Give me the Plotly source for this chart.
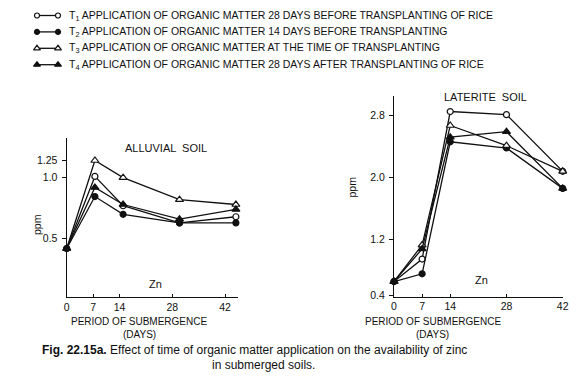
import plotly.graph_objects as go

# ---------------- data ----------------
days = [0, 7, 14, 28, 42]
day_labels = ["0", "7", "14", "28", "42"]

series_names = ["T1", "T2", "T3", "T4"]
legend_texts = [
    "T<sub>1</sub> APPLICATION OF ORGANIC MATTER 28 DAYS BEFORE TRANSPLANTING OF RICE",
    "T<sub>2</sub> APPLICATION OF ORGANIC MATTER 14 DAYS BEFORE TRANSPLANTING",
    "T<sub>3</sub> APPLICATION OF ORGANIC MATTER AT THE TIME OF TRANSPLANTING",
    "T<sub>4</sub> APPLICATION OF ORGANIC MATTER 28 DAYS AFTER TRANSPLANTING OF RICE",
]

alluvial_T1 = [0.42, 1.01, 0.77, 0.63, 0.68]
alluvial_T2 = [0.42, 0.845, 0.70, 0.63, 0.63]
alluvial_T3 = [0.42, 1.14, 1.00, 0.82, 0.78]
alluvial_T4 = [0.42, 0.92, 0.78, 0.66, 0.74]

laterite_T1 = [0.66, 0.95, 2.85, 2.81, 2.08]
laterite_T2 = [0.66, 0.76, 2.46, 2.38, 1.86]
laterite_T3 = [0.66, 1.13, 2.67, 2.41, 2.08]
laterite_T4 = [0.66, 1.08, 2.52, 2.59, 1.86]

alluvial = [alluvial_T1, alluvial_T2, alluvial_T3, alluvial_T4]
laterite = [laterite_T1, laterite_T2, laterite_T3, laterite_T4]

alluvial_ytick_vals = [0.5, 1.0, 1.139]
alluvial_ytick_text = ["0.5", "1.0", "1.25"]
laterite_ytick_vals = [0.48, 1.2, 2.0, 2.8]
laterite_ytick_text = ["0.4", "1.2", "2.0", "2.8"]

# ---------------- style ----------------
W, H = 586, 378
FONT = "Liberation Sans, Arial, sans-serif"
BLACK = "#111111"
symbols = ["circle", "circle", "triangle-up", "triangle-up"]
fills = ["white", BLACK, "white", BLACK]
sizes = [6, 6, 7, 7]

def px_x(p):
    return p / W

def px_y(p):
    return 1 - p / H

fig = go.Figure()

def add_series(values, xa, ya):
    for i, vals in enumerate(values):
        fig.add_trace(go.Scatter(
            x=days, y=vals, xaxis=xa, yaxis=ya, mode="lines+markers",
            name=series_names[i], showlegend=False, cliponaxis=False,
            line=dict(color=BLACK, width=1.3),
            marker=dict(symbol=symbols[i], size=sizes[i], color=fills[i],
                        line=dict(color=BLACK, width=1.2)),
            hoverinfo="x+y+name"))

add_series(alluvial, "x", "y")
add_series(laterite, "x2", "y2")

# legend glyphs on a hidden pixel-coordinate overlay axis
for i in range(4):
    ry = 15.5 + i * 16.4
    fig.add_trace(go.Scatter(
        x=[37, 58], y=[ry, ry], xaxis="x3", yaxis="y3", mode="lines+markers",
        showlegend=False, hoverinfo="skip", cliponaxis=False,
        line=dict(color=BLACK, width=1.3),
        marker=dict(symbol=symbols[i], size=sizes[i] - 1, color=fills[i],
                    line=dict(color=BLACK, width=1.2))))

axis_common = dict(showgrid=False, zeroline=False, showline=True, linecolor=BLACK,
                   linewidth=1.3, tickcolor=BLACK, tickwidth=1.3, automargin=False,
                   tickfont=dict(family=FONT, size=10.5, color=BLACK))
xaxis_common = dict(ticks="inside", ticklen=3, **axis_common)
yaxis_common = dict(ticks="outside", ticklen=4, ticklabelstandoff=2, **axis_common)

left_scale = 0.936
fig.update_layout(
    width=W, height=H, margin=dict(l=0, r=0, t=0, b=0, autoexpand=False),
    paper_bgcolor="white", plot_bgcolor="rgba(0,0,0,0)",
    showlegend=False,
    xaxis=dict(domain=[px_x(66.7), px_x(237.5)], range=[0, 42.4], anchor="y",
               tickvals=[d * left_scale for d in days], ticktext=day_labels, **xaxis_common),
    yaxis=dict(domain=[px_y(297.3), px_y(138)], range=[0.021, 1.324], anchor="x",
               tickvals=alluvial_ytick_vals, ticktext=alluvial_ytick_text, **yaxis_common),
    xaxis2=dict(domain=[px_x(394), px_x(562.7)], range=[0, 42], anchor="y2",
                tickvals=days, ticktext=day_labels, **xaxis_common),
    yaxis2=dict(domain=[px_y(296.7), px_y(96)], range=[0.465, 3.05], anchor="x2",
                tickvals=laterite_ytick_vals, ticktext=laterite_ytick_text, **yaxis_common),
    xaxis3=dict(domain=[0, 1], range=[0, W], visible=False, anchor="y3",
                fixedrange=True, automargin=False),
    yaxis3=dict(domain=[0, 1], range=[H, 0], visible=False, anchor="x3",
                fixedrange=True, automargin=False),
)

def note(text, x, y, size=10.5, xanchor="center", angle=0):
    fig.add_annotation(text=text, x=px_x(x), y=px_y(y), xref="paper", yref="paper",
                       xanchor=xanchor, yanchor="middle", showarrow=False, textangle=angle,
                       font=dict(family=FONT, size=size, color=BLACK))

for i, t in enumerate(legend_texts):
    note(t, 67, 15.5 + i * 16.4, size=10.5, xanchor="left")

note("ALLUVIAL  SOIL", 166, 148.5, size=11)
note("LATERITE  SOIL", 485, 97, size=11)
note("Zn", 155, 284, size=11)
note("Zn", 481.5, 280, size=11)
note("ppm", 37, 225, size=10.5, angle=-90)
note("ppm", 351.5, 187, size=10.5, angle=-90)
note("PERIOD OF SUBMERGENCE", 139, 321.5, size=10)
note("(DAYS)", 139, 334, size=10)
note("PERIOD OF SUBMERGENCE", 433, 321.5, size=10)
note("(DAYS)", 432, 334, size=10)
note("<b>Fig. 22.15a.</b> Effect of time of organic matter application on the availability of zinc",
     40, 349.5, size=12, xanchor="left")
note("in submerged soils.", 263, 365, size=12)

fig.write_html("out.html", config={"displayModeBar": False},
               post_script="document.body.style.margin='0';document.body.style.padding='0';")
